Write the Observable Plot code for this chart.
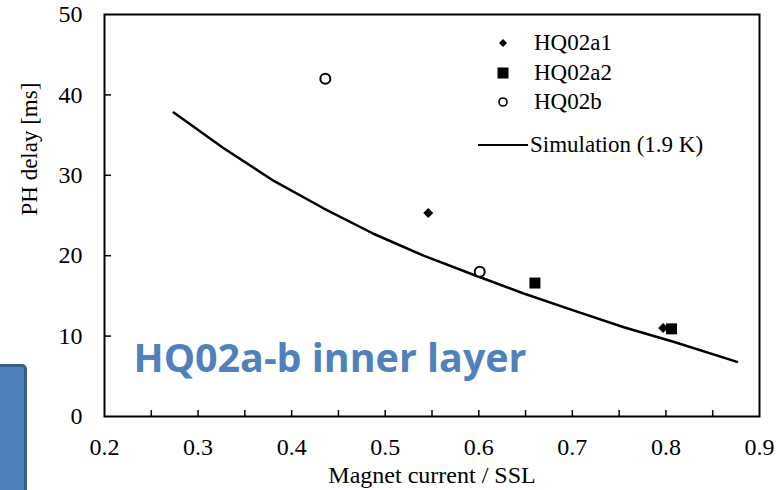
<!DOCTYPE html>
<html>
<head>
<meta charset="utf-8">
<script src="https://cdn.jsdelivr.net/npm/d3@7"></script>
<script src="https://cdn.jsdelivr.net/npm/@observablehq/plot@0.6"></script>
<style>
  html, body { margin: 0; padding: 0; background: #fff; }
  #wrap { position: relative; width: 776px; height: 490px; overflow: hidden; }
  #wrap svg { position: absolute; left: 0; top: 0; }
  .tab {
    position: absolute; left: -12px; top: 364px; width: 33px; height: 150px;
    background: #4f81bd; border: 3px solid #385d8a; border-radius: 5px;
  }
  .legend { position: absolute; left: 0; top: 0; font-family: "Liberation Serif", "Times New Roman", serif; font-size: 23px; color: #000; }
  .legend .row { position: absolute; height: 30px; line-height: 30px; white-space: nowrap; }
  .legend svg { position: absolute; }
</style>
</head>
<body>
<div id="wrap"></div>
<script>
// PH delay versus magnet current fraction of short-sample limit
const xTicks = [0.2, 0.3, 0.4, 0.5, 0.6, 0.7, 0.8, 0.9];
const xTickMarks = [0.25, 0.3, 0.35, 0.4, 0.45, 0.5, 0.55, 0.6, 0.65, 0.7, 0.75, 0.8, 0.85];
const yTicks = [0, 10, 20, 30, 40, 50];
const yTickMarks = [10, 20, 30, 40];

// Measured delays
const hq02a1 = [
  {current: 0.546, delay: 25.3},
  {current: 0.797, delay: 11.0}
];
const hq02a2 = [
  {current: 0.660, delay: 16.6},
  {current: 0.806, delay: 10.9}
];
const hq02b = [
  {current: 0.436, delay: 42.0},
  {current: 0.601, delay: 18.0}
];

// Simulated curve at 1.9 K
const simCurrent = [0.274, 0.327, 0.381, 0.434, 0.488, 0.541, 0.595, 0.648, 0.701, 0.755, 0.808, 0.876];
const simDelay   = [37.8, 33.4, 29.3, 25.9, 22.7, 20.0, 17.6, 15.3, 13.2, 11.1, 9.3, 6.8];
const simulation = simCurrent.map((c, i) => ({current: c, delay: simDelay[i]}));

const title = "HQ02a-b inner layer";
const serif = "'Liberation Serif', 'Times New Roman', serif";
const width = 776, height = 490;
const margin = {top: 14, right: 17, bottom: 74, left: 104};
const plotW = width - margin.left - margin.right;
const plotH = height - margin.top - margin.bottom;

const chart = Plot.plot({
  width, height,
  marginTop: margin.top, marginRight: margin.right,
  marginBottom: margin.bottom, marginLeft: margin.left,
  style: {fontFamily: serif, fontSize: "24px", color: "#000", background: "transparent"},
  x: {domain: [0.2, 0.9]},
  y: {domain: [0, 50]},
  marks: [
    Plot.axisX({ticks: xTicks, tickSize: 0, tickPadding: 21, tickFormat: d3.format(".1f"), label: null, fontSize: 24, fontFamily: serif}),
    Plot.axisY({ticks: yTicks, tickSize: 0, tickPadding: 22, label: null, fontSize: 24, fontFamily: serif}),
    // inward tick marks
    Plot.tickX(xTickMarks, {x: d => d, insetTop: plotH - 6, stroke: "#000", strokeWidth: 1.5}),
    Plot.tickY(yTickMarks, {y: d => d, insetRight: plotW - 7, stroke: "#000", strokeWidth: 1.5}),
    Plot.frame({stroke: "#000", strokeWidth: 2}),
    Plot.text(["Magnet current / SSL"], {frameAnchor: "bottom", dy: 66, fontSize: 24, fontFamily: serif}),
    Plot.text(["PH delay [ms]"], {frameAnchor: "left", dx: -75, rotate: -90, fontSize: 23, fontFamily: serif}),
    Plot.line(simulation, {x: "current", y: "delay", stroke: "#000", strokeWidth: 2.5}),
    Plot.dot(hq02a1, {x: "current", y: "delay", symbol: "diamond2", r: 4.5, fill: "#000", stroke: "none"}),
    Plot.dot(hq02a2, {x: "current", y: "delay", symbol: "square", r: 6.2, fill: "#000", stroke: "none"}),
    Plot.dot(hq02b, {x: "current", y: "delay", symbol: "circle", r: 5, fill: "#fff", stroke: "#000", strokeWidth: 2}),
    Plot.text([title], {
      frameAnchor: "bottom-left", dx: 29, dy: -45, textAnchor: "start", lineAnchor: "bottom",
      fill: "#4f81bd", fontSize: 40, fontWeight: "bold",
      fontFamily: "'Open Sans', Lato, sans-serif"
    })
  ]
});

// fit the annotation to its drawn width
d3.select(chart).selectAll("text")
  .filter(function() { return this.textContent === title; })
  .attr("textLength", 393).attr("lengthAdjust", "spacingAndGlyphs");

const wrap = document.getElementById("wrap");
const tab = document.createElement("div");
tab.className = "tab";
wrap.appendChild(tab);
wrap.appendChild(chart);

// legend
const legendItems = [
  {label: "HQ02a1", kind: "diamond", y: 43},
  {label: "HQ02a2", kind: "square", y: 73},
  {label: "HQ02b", kind: "circle", y: 102},
  {label: "Simulation (1.9 K)", kind: "line", y: 145}
];
const legend = document.createElement("div");
legend.className = "legend";
for (const item of legendItems) {
  const row = document.createElement("div");
  row.className = "row";
  row.style.top = (item.y - 15) + "px";
  row.style.left = "470px";
  const sym = d3.create("svg").attr("width", 62).attr("height", 30).style("left", "0px").style("top", "0px");
  const cx = 33, cy = 15;
  if (item.kind === "diamond") {
    sym.append("path").attr("d", `M${cx},${cy-4}L${cx+4},${cy}L${cx},${cy+4}L${cx-4},${cy}Z`).attr("fill", "#000");
  } else if (item.kind === "square") {
    sym.append("rect").attr("x", cx - 5.5).attr("y", cy - 5.5).attr("width", 11).attr("height", 11).attr("fill", "#000");
  } else if (item.kind === "circle") {
    sym.append("circle").attr("cx", cx).attr("cy", cy).attr("r", 4).attr("fill", "#fff").attr("stroke", "#000").attr("stroke-width", 1.6);
  } else {
    sym.append("line").attr("x1", 8).attr("x2", 58).attr("y1", cy).attr("y2", cy).attr("stroke", "#000").attr("stroke-width", 2);
  }
  row.appendChild(sym.node());
  const text = document.createElement("span");
  text.textContent = item.label;
  text.style.position = "absolute";
  text.style.left = (item.kind === "line" ? 60 : 64) + "px";
  row.appendChild(text);
  legend.appendChild(row);
}
wrap.appendChild(legend);
</script>
</body>
</html>
